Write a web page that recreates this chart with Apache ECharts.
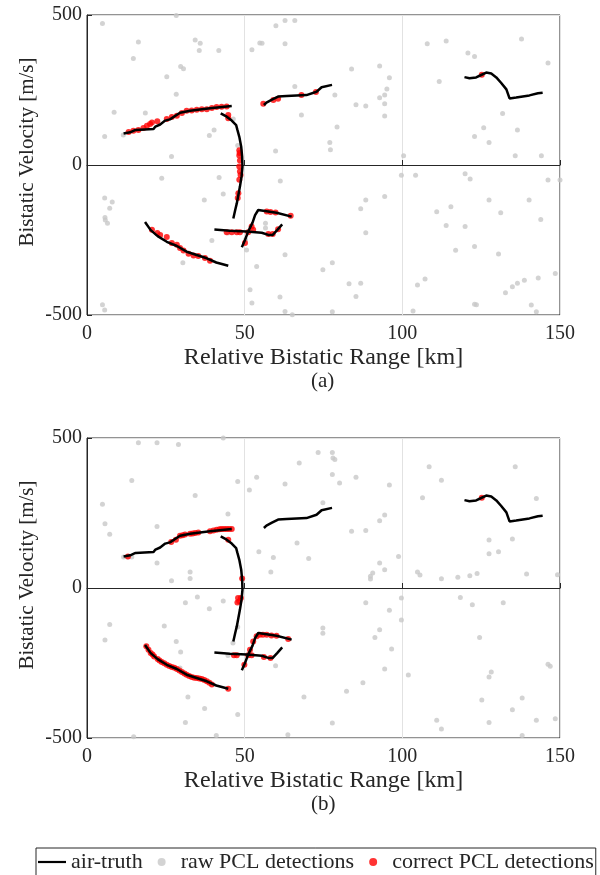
<!DOCTYPE html>
<html>
<head>
<meta charset="utf-8">
<script src="https://cdn.jsdelivr.net/npm/echarts@6/dist/echarts.min.js"></script>
<style>
  html, body { margin: 0; padding: 0; background: #fff; }
  #chart { width: 600px; height: 875px; }
</style>
</head>
<body>
<div id="chart"></div>
<script>
// air-truth tracks (same in both panels): [range km, velocity m/s]
var trackA = [[11.6,105],[13.7,109],[15.4,117],[21.1,120],[21.7,128],[23.2,135],[24.8,148],[26.3,152],[29.5,174],[32.7,181],[39.0,189],[45.9,197]];
var trackB = [[42.4,172],[44.3,161],[45.9,148],[47.3,133],[47.7,117],[48.3,94],[48.9,61],[49.2,28],[49.3,-6],[49.0,-39],[48.5,-72],[48.0,-100],[47.5,-128],[47.0,-150],[46.4,-178]];
var trackC = [[56.1,200],[56.9,208],[58.5,217],[60.6,228],[63.3,230],[69.6,233],[72.8,244],[74.4,259],[77.7,267]];
var trackD = [[18.4,-190],[20.2,-217],[22.4,-237],[25.3,-256],[28.5,-270],[31.6,-289],[34.8,-300],[38.0,-311],[41.0,-325],[44.8,-336]];
var trackE = [[40.4,-215],[45.3,-219],[50.6,-222],[55.4,-226],[57.5,-233],[58.9,-233],[60.3,-217],[61.9,-198]];
var trackF = [[49.1,-274],[50.1,-250],[51.1,-222],[52.5,-192],[53.3,-167],[54.3,-150],[56.4,-153],[60.1,-159],[64.9,-172]];
var trackG = [[119.7,293],[121.3,289],[123.4,292],[125.0,300],[126.6,308],[128.2,305],[129.8,292],[131.3,274],[133.0,252],[134.0,222],[136.1,225],[140.3,232],[143.0,239],[144.5,241]];

// (a) raw PCL detections
var rawA = [[4.9,472],[28.3,498],[16.3,410],[34.3,417],[35.9,406],[35.6,382],[41.8,382],[14.7,355],[29.7,328],[30.6,321],
  [25.3,294],[28.3,236],[8.6,176],[18.5,173],[5.6,95],[40.3,117],[38.8,98],[46.4,153],[47.8,65],[26.8,28],
  [23.7,-44],[41.9,-42],[5.6,-110],[8.0,-123],[7.2,-144],[5.7,-175],[5.8,-183],[6.5,-194],[37.2,-117],[43.2,-97],
  [39.6,-252],[30.4,-326],[50.6,-283],[53.8,-338],[62.8,-299],[51.7,-416],[52.3,-460],[61.2,-440],[62.8,-488],[65.1,-499],
  [4.9,-466],[5.6,-483],[59.9,464],[62.8,482],[65.9,482],[54.8,407],[55.5,406],[52.3,384],[62.8,404],[65.9,262],
  [68.0,167],[59.8,47],[61.3,-53],[56.6,-194],[56.6,-210],[50.3,-249],[74.8,-349],[44.7,-227],[11.5,100],
  [77.8,-326],[107.9,404],[113.9,413],[137.8,420],[120.8,373],[122.9,362],[146.2,340],[83.9,320],[92.8,330],[95.9,291],
  [95.1,253],[94.4,233],[92.8,224],[94.4,204],[94.4,163],[78.6,233],[85.3,201],[88.4,197],[111.7,278],[79.3,127],
  [131.8,172],[125.8,124],[136.5,117],[122.9,95],[127.5,75],[77.0,75],[77.2,51],[100.4,31],[135.8,31],[144.1,31],
  [99.7,-34],[104.2,-34],[119.9,-29],[121.5,-47],[146.2,-50],[150.0,-50],[94.4,-105],[88.4,-117],[86.8,-146],[88.4,-226],
  [127.5,-117],[140.2,-117],[110.9,-156],[115.4,-139],[131.2,-159],[113.9,-202],[119.9,-205],[143.9,-182],[116.9,-284],[122.9,-272],
  [130.5,-297],[83.1,-396],[86.8,-394],[85.3,-438],[104.8,-400],[107.2,-380],[132.7,-426],[134.9,-406],[136.5,-394],[138.7,-384],
  [143.1,-377],[148.5,-362],[122.9,-464],[140.9,-467],[142.5,-489],[103.4,-487],[77.8,-489],[123.5,-466]];

// (a) correct PCL detections
var hitA = [[13.2,110],[14.7,114],[16.3,117],[17.9,123],[19.0,131],[20.0,137],[20.6,142],[22.3,146],[25.3,153],[26.9,160],
  [28.5,164],[30.1,173],[31.6,181],[33.2,182],[34.8,184],[36.4,186],[38.0,186],[39.6,190],[41.1,193],[42.7,194],[44.3,195],
  [44.8,167],[44.8,156],[48.3,49],[48.4,40],[48.3,32],[48.5,15],[48.3,-5],[48.5,-22],[48.7,-33],[48.3,-49],[48.0,-94],[47.8,-110],
  [55.9,204],[59.1,217],[60.6,221],[68.0,233],[72.6,243],
  [20.6,-216],[22.3,-227],[23.2,-233],[25.3,-240],[26.9,-260],[28.5,-266],[29.5,-277],[30.6,-285],[32.2,-296],[33.8,-302],
  [35.3,-303],[37.4,-310],[39.0,-319],
  [44.3,-224],[45.9,-224],[47.5,-224],[48.5,-224],[51.1,-224],[52.2,-205],[52.7,-216],[50.1,-260],[57.0,-155],[58.2,-157],
  [59.8,-158],[57.5,-230],[58.9,-230],[60.6,-214],[64.6,-169],
  [125.2,301]];

// (b) raw PCL detections
var rawB = [[16.3,484],[22.2,484],[29.0,478],[43.2,500],[14.2,358],[47.8,355],[34.3,308],[4.9,279],[44.7,247],[5.7,214],
  [22.2,205],[7.2,179],[11.6,103],[12.8,103],[14.2,103],[22.2,83],[32.7,53],[32.7,32],[26.8,24],[31.2,-49],
  [35.0,-30],[43.2,-43],[38.8,-69],[7.2,-122],[5.7,-173],[24.5,-127],[28.3,-178],[29.7,-213],[29.5,-267],[44.7,-225],
  [47.8,-130],[46.3,-183],[32.0,-363],[37.3,-402],[31.2,-448],[47.8,-422],[14.8,-496],[41.0,-492],[54.5,121],[59.1,102],
  [58.3,53],[66.6,150],[70.3,98],[51.5,327],[53.8,369],[62.8,347],[67.3,417],[73.3,452],[74.8,284],[74.8,-133],
  [74.8,-151],[59.8,-259],[68.8,-363],[63.7,-489],
  [77.8,452],[78.0,433],[78.6,428],[77.8,378],[80.1,350],[85.3,369],[95.9,343],[108.5,404],[112.4,359],[135.8,404],
  [106.4,301],[142.5,298],[94.4,243],[92.8,224],[83.9,189],[88.4,192],[127.5,160],[134.9,163],[127.5,114],[130.5,121],
  [98.8,105],[92.8,83],[94.4,61],[90.6,50],[89.9,39],[89.9,30],[104.8,53],[105.6,43],[112.4,31],[117.6,36],
  [121.4,41],[123.7,48],[139.4,47],[149.2,44],[88.4,-49],[99.7,-33],[95.9,-74],[99.7,-107],[118.4,-32],[122.2,-56],
  [132.0,-49],[92.8,-139],[91.3,-165],[96.6,-203],[94.4,-270],[101.9,-290],[87.5,-316],[82.3,-344],[124.5,-165],[146.2,-254],
  [146.9,-261],[128.2,-280],[127.5,-297],[125.2,-373],[138.0,-367],[134.9,-406],[142.5,-441],[148.5,-436],[138.0,-492],[127.5,-448],
  [110.9,-441],[112.4,-470],[77.8,-450]];

// (b) correct PCL detections
var hitB = [[13.0,105],[26.7,153],[28.2,161],[29.5,174],[30.3,176],[31.1,178],[32.7,181],[33.5,182],[34.3,183],[35.3,185],
  [39.0,189],[40.1,192],[41.1,194],[42.0,196],[42.7,197],[43.5,197],[44.3,197],[45.1,197],[45.9,197],
  [44.8,161],[49.2,32],[47.9,-33],[48.3,-44],[48.8,-33],[47.7,-48],
  [18.8,-194],[19.5,-206],[20.2,-217],[20.8,-222],[21.3,-228],[22.4,-237],[23.0,-242],[23.7,-247],[24.5,-251],[25.3,-256],
  [26.1,-260],[26.9,-263],[27.7,-266],[28.5,-270],[29.3,-275],[30.1,-280],[30.9,-285],[31.6,-289],[32.4,-293],[33.2,-297],
  [34.0,-299],[34.8,-300],[35.6,-302],[36.4,-303],[37.2,-307],[38.0,-311],[38.8,-316],[39.6,-322],[44.8,-336],
  [46.6,-224],[47.5,-224],[51.1,-224],[52.2,-224],[56.1,-230],[58.2,-233],[52.7,-178],[53.8,-161],[54.8,-156],[55.8,-156],
  [57.0,-156],[58.5,-158],[60.1,-159],[63.8,-170],[49.9,-256],[51.7,-206],
  [125.2,301]];

var xTicks = [0, 50, 100, 150];
var yTicks = [-500, 0, 500];

var chart = echarts.init(document.getElementById('chart'));
var serif = 'Liberation Serif';
var tracks = [trackA, trackB, trackC, trackD, trackE, trackF, trackG];

function xAx(idx) {
    return {
        gridIndex: idx, type: 'value', min: xTicks[0], max: xTicks[xTicks.length - 1], interval: 50,
        name: 'Relative Bistatic Range [km]', nameLocation: 'middle', nameGap: 31,
        nameTextStyle: { fontFamily: serif, fontSize: 24, color: '#262626' },
        axisLine: { lineStyle: { color: '#262626' } },
        axisTick: { inside: true, length: 5, lineStyle: { color: '#262626' } },
        axisLabel: { fontFamily: serif, fontSize: 20, color: '#262626', margin: 9 },
        splitLine: { show: true, lineStyle: { color: '#e2e2e2' } }
    };
}
function yAx(idx) {
    return {
        gridIndex: idx, type: 'value', min: yTicks[0], max: yTicks[yTicks.length - 1], interval: 500,
        axisLine: { lineStyle: { color: '#262626' } },
        axisTick: { inside: true, length: 5, lineStyle: { color: '#262626' } },
        axisLabel: { fontFamily: serif, fontSize: 20, color: '#262626', margin: 5 },
        splitLine: { show: true, lineStyle: { color: '#e2e2e2' } }
    };
}

var series = [];
[[rawA, hitA], [rawB, hitB]].forEach(function (p, i) {
    series.push({
        name: 'raw PCL detections', type: 'scatter', xAxisIndex: i, yAxisIndex: i,
        data: p[0], symbolSize: 5, itemStyle: { color: '#c8c8c8' }, silent: true
    });
    tracks.forEach(function (t) {
        series.push({
            name: 'air-truth', type: 'line', xAxisIndex: i, yAxisIndex: i,
            data: t, symbol: 'none', lineStyle: { color: '#000', width: 2.5 }, itemStyle: { color: '#000' }
        });
    });
    series.push({
        name: 'correct PCL detections', type: 'scatter', xAxisIndex: i, yAxisIndex: i,
        data: p[1], symbolSize: 6, itemStyle: { color: '#ff0000' }
    });
});

function yName(cy) {
    return {
        type: 'text', x: 27, y: cy, rotation: Math.PI / 2,
        style: { text: 'Bistatic Velocity [m/s]', font: '21px "Liberation Serif"', fill: '#262626',
                 align: 'center', verticalAlign: 'middle' }
    };
}

chart.setOption({
    animation: false,
    grid: [
        { left: 87, top: 15, width: 473, height: 300, show: true, borderColor: '#262626', borderWidth: 1 },
        { left: 87, top: 438, width: 473, height: 300, show: true, borderColor: '#262626', borderWidth: 1 }
    ],
    xAxis: [xAx(0), xAx(1)],
    yAxis: [yAx(0), yAx(1)],
    legend: {
        data: [
            { name: 'air-truth', icon: 'path://M0,0H28V2.2H0Z' },
            'raw PCL detections', 'correct PCL detections'
        ],
        left: 36, top: 848,
        itemWidth: 28, itemHeight: 8, itemGap: 15,
        borderColor: '#262626', borderWidth: 1, borderRadius: 0, padding: [3, 2, 8, 2],
        textStyle: { fontFamily: serif, fontSize: 22, color: '#262626' }
    },
    graphic: [
        yName(152), yName(575),
        { type: 'text', left: 311, top: 371, style: { text: '(a)', font: '21px "Liberation Serif"', fill: '#262626' } },
        { type: 'text', left: 311, top: 794, style: { text: '(b)', font: '21px "Liberation Serif"', fill: '#262626' } }
    ],
    series: series
});
</script>
</body>
</html>
